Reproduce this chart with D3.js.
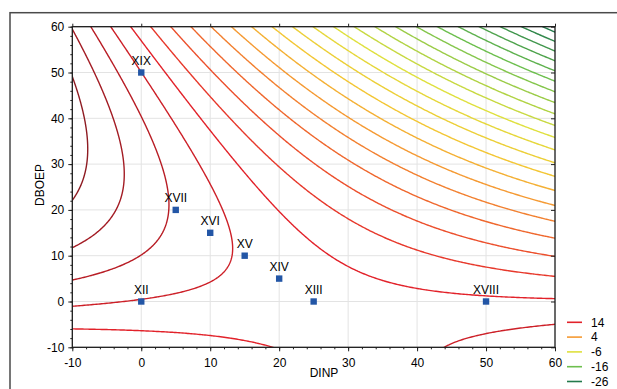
<!DOCTYPE html>
<html>
<head>
<meta charset="utf-8">
<script src="https://cdn.jsdelivr.net/npm/d3@7"></script>
<style>
  body { margin: 0; background: #fff; }
  svg { display: block; font-family: "Liberation Sans", Arial, sans-serif; }
</style>
</head>
<body>
<svg id="chart"></svg>
<script>
// points, [DINP, DBOEP]
const trace22 = [[-10, 49], [-8.2, 38.8], [-8, 30], [-8.4, 24.5], [-10, 22.3]];
const trace20 = [[-9.9, 59.1], [-6.5, 49.7], [-4.1, 39.5], [-2.6, 30], [-2.6, 24.5], [-3.1, 22.3], [-5.5, 16.1], [-9.9, 11.7]];
const trace18 = [[-7.2, 59.9], [3.6, 24.5], [3.6, 20], [3.2, 15], [-0.2, 10], [-10, 4.7]];
const trace16 = [[-4.3, 60], [0, 49.7], [9.9, 25.2], [12.3, 18], [13.2, 12.1], [12.3, 7], [8.9, 4.1], [4.1, 1.9], [0, 0.5], [-10, -1.1],
                 [44.8, -10], [47.5, -7.9], [50.4, -6.8], [55.7, -5.7], [60, -5.2]];
const trace14 = [[-1.4, 60], [16.4, 25.2], [19.8, 20.1], [22.2, 15.8], [26, 10.7], [29.9, 7.8], [36.8, 3.8], [41.2, 2.7], [46, 2], [50.8, 1.3], [60, 0.6],
                 [-10, -6], [0, -6.6], [10.3, -7.7], [19, -10]];
const trace12 = [[1.5, 60], [23.1, 25.2], [27, 20.9], [32.3, 17.2], [36.9, 13.6], [41.2, 10.7], [46, 8.5], [50.8, 7], [60, 5.6]];
const trace10 = [[4.1, 60], [29.9, 25.2], [33.3, 22.3], [36.9, 19.8], [41.2, 17.2], [46, 14.3], [50.8, 12.1], [60, 9.9]];
const trace8 = [[7, 60], [60, 13.8]];
const trace6 = [[9.9, 60], [60, 17.7]];
const trace4 = [[13, 60], [60, 21]];

// where the lower levels cross the top edge (DBOEP = 60)
const topLevels = [2, 0, -2, -4, -6, -8, -10, -12, -14, -16, -18, -20, -22, -24, -26];
const topDINP = [15.9, 19.2, 22.1, 25, 27.9, 31, 33.9, 36.9, 39.8, 42.9, 46.1, 49, 52.2, 55, 58];

const levels = d3.range(22, -30, -2);
const legendLevels = [14, 4, -6, -16, -26];

const runNames = ['XIX', 'XVII', 'XVI', 'XV', 'XIV', 'XIII', 'XII', 'XVIII'];
const runDINP = [0, 5, 10, 15, 20, 25, 0, 50];
const runDBOEP = [50, 20, 15, 10, 5, 0, 0, 0];

const axisTicks = [-10, 0, 10, 20, 30, 40, 50, 60];

const width = 617;
const height = 389;
const plotL = 72.3, plotR = 555, plotT = 26.7, plotB = 347.3;

const svg = d3.select('#chart').attr('width', width).attr('height', height);

const x = d3.scaleLinear().domain([-10, 60]).range([plotL, plotR]);
const y = d3.scaleLinear().domain([-10, 60]).range([plotB, plotT]);

const color = d3.scaleLinear()
  .domain([22, 18, 14, 9, 4, 0, -6, -16, -26, -30])
  .range(['#8e1b22', '#b81d25', '#e2222a', '#ee5a2c', '#f59a33', '#f3c634', '#dfe03e', '#6dbf4e', '#237a4c', '#125f40'])
  .clamp(true);

// least squares quadratic surface through the traced points
const samples = [];
[[22, trace22], [20, trace20], [18, trace18], [16, trace16], [14, trace14], [12, trace12],
 [10, trace10], [8, trace8], [6, trace6], [4, trace4]].forEach(([lv, pts]) => {
  pts.forEach(p => samples.push([p[0], p[1], lv]));
});
topLevels.forEach((lv, i) => samples.push([topDINP[i], 60, lv]));

function fitSurface(data) {
  const terms = (u, v) => [1, u, v, u * u, v * v, u * v];
  const m = 6;
  const A = d3.range(m).map(() => new Array(m).fill(0));
  const b = new Array(m).fill(0);
  data.forEach(([px, py, z]) => {
    const t = terms(px / 10, py / 10);
    for (let r = 0; r < m; r++) {
      b[r] += t[r] * z;
      for (let c = 0; c < m; c++) A[r][c] += t[r] * t[c];
    }
  });
  for (let i = 0; i < m; i++) {
    let p = i;
    for (let r = i + 1; r < m; r++) if (Math.abs(A[r][i]) > Math.abs(A[p][i])) p = r;
    [A[i], A[p]] = [A[p], A[i]];
    [b[i], b[p]] = [b[p], b[i]];
    for (let r = i + 1; r < m; r++) {
      const f = A[r][i] / A[i][i];
      for (let c = i; c < m; c++) A[r][c] -= f * A[i][c];
      b[r] -= f * b[i];
    }
  }
  const coef = new Array(m).fill(0);
  for (let i = m - 1; i >= 0; i--) {
    let s = b[i];
    for (let c = i + 1; c < m; c++) s -= A[i][c] * coef[c];
    coef[i] = s / A[i][i];
  }
  return (px, py) => d3.sum(terms(px / 10, py / 10), (t, i) => t * coef[i]);
}

const surface = fitSurface(samples);

// grid a bit larger than the plot so the polygon borders fall outside the clip
const g0 = -12, step = 0.25, n = 297;
const values = new Array(n * n);
for (let j = 0; j < n; j++) {
  for (let i = 0; i < n; i++) values[j * n + i] = surface(g0 + i * step, g0 + j * step);
}
const contours = d3.contours().size([n, n]).thresholds(levels)(values);

const toData = c => g0 + (c - 0.5) * step;
const path = d3.geoPath(d3.geoTransform({
  point(px, py) { this.stream.point(x(toData(px)), y(toData(py))); }
}));

// outer frame
svg.append('rect')
  .attr('x', 10).attr('y', 12.7)
  .attr('width', 640).attr('height', 400)
  .attr('fill', 'none').attr('stroke', '#4a4a4a').attr('stroke-width', 1.5);

svg.append('clipPath').attr('id', 'plot-clip')
  .append('rect')
  .attr('x', plotL).attr('y', plotT)
  .attr('width', plotR - plotL).attr('height', plotB - plotT);

// grid
const grid = svg.append('g').attr('stroke', '#e3e3e3').attr('stroke-width', 1);
axisTicks.slice(1, -1).forEach(v => {
  grid.append('line').attr('x1', x(v)).attr('x2', x(v)).attr('y1', plotT).attr('y2', plotB);
  grid.append('line').attr('x1', plotL).attr('x2', plotR).attr('y1', y(v)).attr('y2', y(v));
});

svg.append('g')
  .attr('clip-path', 'url(#plot-clip)')
  .selectAll('path')
  .data(contours)
  .join('path')
  .attr('d', path)
  .attr('fill', 'none')
  .attr('stroke', d => color(d.value))
  .attr('stroke-width', 1.4);

// axes
const minor = d3.range(-10, 61, 2);
const plain = d => String(d);
svg.append('g').attr('transform', `translate(0,${plotB})`)
  .call(d3.axisBottom(x).tickValues(axisTicks).tickSize(4).tickPadding(7).tickFormat(plain));
svg.append('g').attr('transform', `translate(${plotL},0)`)
  .call(d3.axisLeft(y).tickValues(axisTicks).tickSize(4).tickPadding(4).tickFormat(plain));
svg.append('g').attr('transform', `translate(0,${plotB})`)
  .call(d3.axisBottom(x).tickValues(minor).tickSize(2).tickFormat(''));
svg.append('g').attr('transform', `translate(${plotL},0)`)
  .call(d3.axisLeft(y).tickValues(minor).tickSize(2).tickFormat(''));
svg.append('g').attr('transform', `translate(0,${plotT})`)
  .call(d3.axisTop(x).tickValues(axisTicks).tickSize(3).tickFormat(''));
svg.append('g').attr('transform', `translate(${plotR},0)`)
  .call(d3.axisRight(y).tickValues(axisTicks).tickSize(-4).tickFormat(''));

svg.selectAll('.domain').remove();
svg.selectAll('.tick line').attr('stroke', '#222');
svg.selectAll('.tick text')
  .attr('font-family', '"Liberation Sans", Arial, sans-serif')
  .attr('font-size', 12).attr('fill', '#000');

svg.append('rect')
  .attr('x', plotL).attr('y', plotT)
  .attr('width', plotR - plotL).attr('height', plotB - plotT)
  .attr('fill', 'none').attr('stroke', '#1a1a1a').attr('stroke-width', 1.3);

// design points
const runs = runNames.map((name, i) => ({ name, dinp: runDINP[i], dboep: runDBOEP[i] }));
svg.append('g').selectAll('rect')
  .data(runs)
  .join('rect')
  .attr('x', d => x(d.dinp) - 3.2)
  .attr('y', d => y(d.dboep) - 3.2)
  .attr('width', 6.4).attr('height', 6.4)
  .attr('fill', '#2356a6');
svg.append('g').selectAll('text')
  .data(runs)
  .join('text')
  .attr('x', d => x(d.dinp))
  .attr('y', d => y(d.dboep) - 7.5)
  .attr('text-anchor', 'middle')
  .attr('font-size', 12).attr('fill', '#000')
  .text(d => d.name);

// axis titles
svg.append('text')
  .attr('x', 324).attr('y', 377)
  .attr('text-anchor', 'middle').attr('font-size', 12).attr('fill', '#000')
  .text('DINP');
svg.append('text')
  .attr('transform', 'translate(44,185) rotate(-90)')
  .attr('text-anchor', 'middle').attr('font-size', 12).attr('fill', '#000')
  .text('DBOEP');

// legend
const legend = svg.append('g').selectAll('g')
  .data(legendLevels)
  .join('g')
  .attr('transform', (d, i) => `translate(0,${322.3 + i * 14.8})`);
legend.append('line')
  .attr('x1', 567).attr('x2', 582)
  .attr('stroke', d => color(d)).attr('stroke-width', 1.6);
legend.append('text')
  .attr('x', 591).attr('y', 4.3)
  .attr('font-size', 12).attr('fill', '#000')
  .text(d => d);
</script>
</body>
</html>
